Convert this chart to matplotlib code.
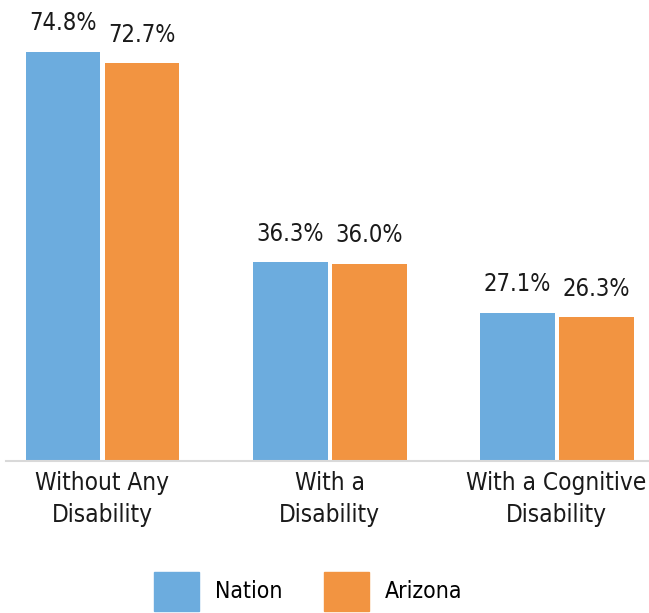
import numpy as np
import matplotlib.pyplot as plt
from matplotlib.patches import Patch

categories = ['Without Any\nDisability', 'With a\nDisability', 'With a Cognitive\nDisability']
nation = [74.8, 36.3, 27.1]
arizona = [72.7, 36.0, 26.3]

blue = '#6CACDE'
orange = '#F29441'

plt.rcParams['font.family'] = ['DejaVu Sans']
plt.rcParams['font.stretch'] = 'condensed'

fig = plt.figure(figsize=(6.49, 6.13), dpi=100)
ax = fig.add_axes([6 / 649, 152 / 613, 643 / 649, 461 / 613])

x = np.arange(len(categories))
w = 0.33
gap = 0.009
b1 = ax.bar(x - w / 2 - gap, nation, w, color=blue)
b2 = ax.bar(x + w / 2 + gap, arizona, w, color=orange)

for bars, vals in [(b1, nation), (b2, arizona)]:
    for b, v in zip(bars, vals):
        ax.annotate('%.1f%%' % v, (b.get_x() + b.get_width() / 2, v),
                    xytext=(0, 12), textcoords='offset points',
                    ha='center', va='bottom', fontsize=17, color='#1a1a1a')

ax.set_xlim(-0.425, 2.407)
ax.set_ylim(0, 84.3)
ax.set_xticks(x)
ax.set_xticklabels(categories, fontsize=17.5, color='#1a1a1a', linespacing=1.45)
ax.tick_params(axis='x', length=0, pad=7)
ax.set_yticks([])
for s in ['top', 'right', 'left']:
    ax.spines[s].set_visible(False)
ax.spines['bottom'].set_color('#d9d9d9')
ax.spines['bottom'].set_linewidth(1.5)

handles = [Patch(color=blue, label='Nation'), Patch(color=orange, label='Arizona')]
fig.legend(handles=handles, loc='lower center', bbox_to_anchor=(0.475, -0.03), ncol=2,
           frameon=False, fontsize=16.5, handlelength=1.95, handleheight=2.25,
           handletextpad=0.7, columnspacing=1.85)

fig.savefig('out.png', dpi=100)
